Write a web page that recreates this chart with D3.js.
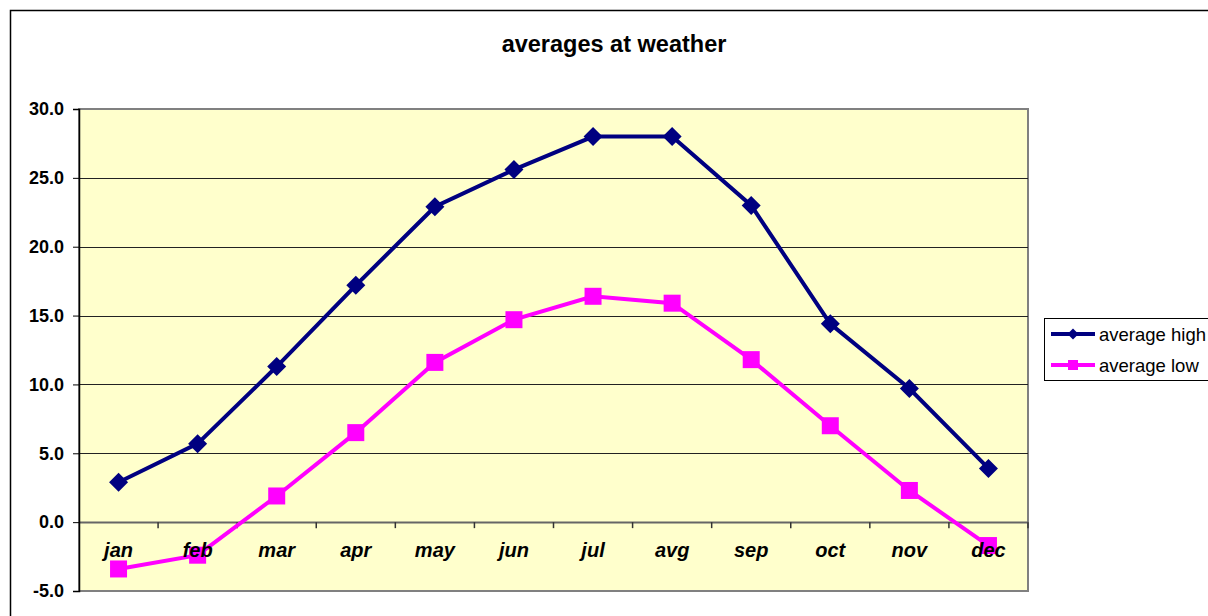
<!DOCTYPE html>
<html>
<head>
<meta charset="utf-8">
<script src="https://cdn.jsdelivr.net/npm/d3@7"></script>
<style>
  body { margin: 0; background: #fff; }
  svg { display: block; font-family: "Liberation Sans", Arial, sans-serif; }
</style>
</head>
<body>
<div id="chart"></div>
<script>
const months = ['jan','feb','mar','apr','may','jun','jul','avg','sep','oct','nov','dec'];
const avgHigh = [2.9, 5.7, 11.3, 17.2, 22.9, 25.6, 28.0, 28.0, 23.0, 14.4, 9.7, 3.9];
const avgLow = [-3.4, -2.4, 1.9, 6.5, 11.6, 14.7, 16.4, 15.9, 11.8, 7.0, 2.3, -1.7];
const yTicks = [-5, 0, 5, 10, 15, 20, 25, 30];
const seriesNames = ['average high', 'average low'];

const W = 1208, H = 616;
const plot = {left: 79, right: 1028, top: 109, bottom: 591};

const svg = d3.select('#chart').append('svg')
    .attr('width', W)
    .attr('height', H);

// outer chart border
svg.append('rect')
    .attr('x', 10.5).attr('y', 10.5)
    .attr('width', W + 20).attr('height', H + 20)
    .attr('fill', '#fff')
    .attr('stroke', '#000')
    .attr('stroke-width', 1.5);

svg.append('text')
    .attr('x', 614).attr('y', 52)
    .attr('text-anchor', 'middle')
    .attr('font-size', 23.5).attr('font-weight', 'bold')
    .text('averages at weather');

const x = d3.scaleBand().domain(months).range([plot.left, plot.right]);
const y = d3.scaleLinear().domain([-5, 30]).range([plot.bottom, plot.top]);

// plot area
svg.append('rect')
    .attr('x', plot.left).attr('y', plot.top)
    .attr('width', plot.right - plot.left)
    .attr('height', plot.bottom - plot.top)
    .attr('fill', '#ffffcc')
    .attr('stroke', '#808080')
    .attr('stroke-width', 2);

// gridlines
svg.append('g').selectAll('line')
    .data(yTicks.filter(d => d > -5 && d < 30))
    .join('line')
    .attr('x1', plot.left).attr('x2', plot.right)
    .attr('y1', d => Math.round(y(d)) + 0.5)
    .attr('y2', d => Math.round(y(d)) + 0.5)
    .attr('stroke', d => d === 0 ? '#666' : '#222')
    .attr('stroke-width', d => d === 0 ? 2 : 1);

// y axis (plain hyphen for negatives, like the original)
const fmt = d => d.toFixed(1);
const yAxis = svg.append('g')
    .attr('transform', 'translate(' + plot.left + ',0)')
    .call(d3.axisLeft(y).tickValues(yTicks).tickSize(6).tickPadding(9).tickFormat(fmt));
yAxis.select('.domain').attr('stroke', '#000').attr('stroke-width', 1.5);
yAxis.selectAll('.tick line').attr('stroke', '#000');
yAxis.selectAll('text')
    .attr('font-size', 18).attr('font-weight', 'bold')
    .attr('font-family', '"Liberation Sans", Arial, sans-serif')
    .attr('fill', '#000');

// category ticks on the zero line
svg.append('g').selectAll('line')
    .data(d3.range(1, months.length + 1))
    .join('line')
    .attr('x1', i => plot.left + i * x.step())
    .attr('x2', i => plot.left + i * x.step())
    .attr('y1', y(0)).attr('y2', y(0) + 6)
    .attr('stroke', '#333').attr('stroke-width', 1.5);

const line = d3.line()
    .x((d, i) => x(months[i]) + x.bandwidth() / 2)
    .y(d => y(d));

// diamond = square turned 45 degrees
const diamond = half => 'M0,' + (-half) + 'L' + half + ',0L0,' + half + 'L' + (-half) + ',0Z';
const square = half => 'M' + (-half) + ',' + (-half) + 'H' + half + 'V' + half + 'H' + (-half) + 'Z';

function drawSeries(values, color, marker) {
    svg.append('path')
        .attr('d', line(values))
        .attr('fill', 'none')
        .attr('stroke', color)
        .attr('stroke-width', 4);
    svg.append('g').selectAll('path')
        .data(values)
        .join('path')
        .attr('transform', (d, i) => 'translate(' + (x(months[i]) + x.bandwidth() / 2) + ',' + y(d) + ')')
        .attr('d', marker)
        .attr('fill', color);
}

drawSeries(avgLow, '#ff00ff', square(8.5));
drawSeries(avgHigh, '#000080', diamond(9.5));

// category labels (drawn over the lines)
svg.append('g').selectAll('text')
    .data(months)
    .join('text')
    .attr('x', d => x(d) + x.bandwidth() / 2)
    .attr('y', 557)
    .attr('text-anchor', 'middle')
    .attr('font-size', 20).attr('font-weight', 'bold').attr('font-style', 'italic')
    .text(d => d);

// legend
const legend = svg.append('g');
legend.append('rect')
    .attr('x', 1044.5).attr('y', 318.5)
    .attr('width', 200).attr('height', 62)
    .attr('fill', '#fff')
    .attr('stroke', '#000');

const legendColors = ['#000080', '#ff00ff'];
const legendMarkers = [diamond(5.5), square(5)];
seriesNames.forEach((name, i) => {
    const cy = 334 + i * 31;
    legend.append('line')
        .attr('x1', 1051).attr('x2', 1095)
        .attr('y1', cy).attr('y2', cy)
        .attr('stroke', legendColors[i]).attr('stroke-width', 4);
    legend.append('path')
        .attr('transform', 'translate(1073,' + cy + ')')
        .attr('d', legendMarkers[i])
        .attr('fill', legendColors[i]);
    legend.append('text')
        .attr('x', 1099).attr('y', cy + 7)
        .attr('font-size', 18.5)
        .text(name);
});
</script>
</body>
</html>
